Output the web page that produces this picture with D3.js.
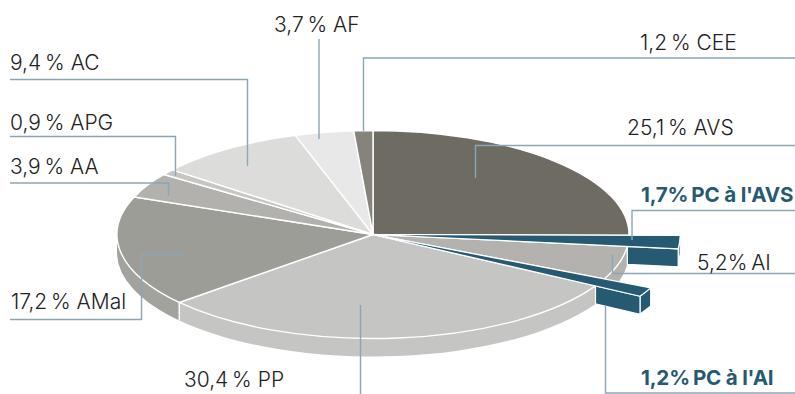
<!DOCTYPE html>
<html>
<head>
<meta charset="utf-8">
<script src="https://cdn.jsdelivr.net/npm/d3@7"></script>
<style>
  html, body { margin: 0; padding: 0; background: #fff; }
  svg { display: block; }
  text { font-family: Inter, Roboto, "Liberation Sans", sans-serif; font-size: 21px; font-weight: 300; fill: #222; }
  text.pc { font-weight: 700; fill: #265a72; font-size: 20.6px; letter-spacing: -0.2px; }
</style>
</head>
<body>
<svg id="chart" width="795" height="394"></svg>
<script>
// Swiss social insurance shares, clockwise from twelve o'clock
const categories = ["AVS", "PC à l'AVS", "AI", "PC à l'AI", "PP", "AMal", "AA", "APG", "AC", "AF", "CEE"];
const shares = [25.1, 1.7, 5.2, 1.2, 30.4, 17.2, 3.9, 0.9, 9.4, 3.7, 1.2];
const faceColors = ["#6e6b63", "#265a72", "#b3b2af", "#265a72", "#c5c5c3", "#9d9d97", "#b2b1ae", "#c6c6c3", "#dcdcda", "#e8e8e8", "#85837c"];
const wallColors = ["#6e6b63", "#265a72", "#b3b2af", "#265a72", "#c5c5c3", "#a3a39e", "#b2b1ae", "#c6c6c3", "#dcdcda", "#e8e8e8", "#85837c"];
const pulledOut = ["PC à l'AVS", "PC à l'AI"];
const labelTexts = ["25,1\u2009% AVS", "1,7%\u2009PC à l'AVS", "5,2%\u2009AI", "1,2%\u2009PC à l'AI", "30,4\u2009% PP", "17,2\u2009% AMal", "3,9\u2009% AA", "0,9\u2009% APG", "9,4\u2009% AC", "3,7\u2009% AF", "1,2\u2009% CEE"];

const cx = 373, cy = 234.5, rx = 256, ry = 104, depth = 18, pull = 1.2;
const svg = d3.select("#chart");

const slices = d3.pie().sort(null).value(d => d)(shares)
  .map((s, i) => ({ ...s, name: categories[i], face: faceColors[i], wall: wallColors[i], label: labelTexts[i] }));

// Point on the tilted disc for an angle measured clockwise from the top
const pt = (a, k = 1, drop = 0) => [cx + rx * k * Math.sin(a), cy - ry * k * Math.cos(a) + drop];
const join = p => p[0].toFixed(2) + "," + p[1].toFixed(2);

// Rim wall between two angles, only the part that faces the viewer
function wallPath(a0, a1, k = 1) {
  const from = Math.max(a0, Math.PI / 2), to = Math.min(a1, Math.PI * 1.5);
  if (to <= from) return null;
  const rA = rx * k, rB = ry * k;
  return `M${join(pt(from, k))}A${rA},${rB} 0 0 1 ${join(pt(to, k))}` +
         `L${join(pt(to, k, depth))}A${rA},${rB} 0 0 0 ${join(pt(from, k, depth))}Z`;
}

const isPulled = d => pulledOut.includes(d.name);

// Walls of the disc
svg.append("g").selectAll("path")
  .data(slices.filter(d => !isPulled(d) && wallPath(d.startAngle, d.endAngle)))
  .join("path")
  .attr("d", d => wallPath(d.startAngle, d.endAngle))
  .attr("fill", d => d.wall);

// Vertical seam between PP and AMal
const seam = slices.find(d => d.name === "PP").endAngle;
svg.append("line")
  .attr("x1", pt(seam)[0]).attr("y1", pt(seam)[1])
  .attr("x2", pt(seam, 1, depth)[0]).attr("y2", pt(seam, 1, depth)[1])
  .attr("stroke", "#fff").attr("stroke-width", 1.4);

// Flat top faces, drawn with d3.arc on a squashed circle
const arc = d3.arc().innerRadius(0).outerRadius(rx);
const arcOut = d3.arc().innerRadius(0).outerRadius(rx * pull);
const faces = svg.append("g").attr("transform", `translate(${cx},${cy}) scale(1,${ry / rx})`);
faces.selectAll("path.face")
  .data(slices.filter(d => !isPulled(d)))
  .join("path")
  .attr("class", "face")
  .attr("d", arc)
  .attr("fill", d => d.face)
  .attr("stroke", "#fff")
  .attr("stroke-width", 1.4)
  .attr("vector-effect", "non-scaling-stroke");

// Supplementary benefits: wedges pulled beyond the rim with their own walls
const bars = slices.filter(isPulled);
const barG = svg.append("g");
bars.forEach(d => {
  const a0 = d.startAngle, a1 = d.endAngle;
  const side = `M${join(pt(a0, pull))}L${join(pt(a1, pull))}L${join(pt(a1, pull, depth))}L${join(pt(a0, pull, depth))}Z`;
  const front = `M${join(pt(a1, 1))}L${join(pt(a1, pull))}L${join(pt(a1, pull, depth))}L${join(pt(a1, 1, depth))}Z`;
  [side, front].forEach(p => barG.append("path").attr("d", p)
    .attr("fill", d.face).attr("stroke", "#fff").attr("stroke-width", 1.2).attr("stroke-linejoin", "round"));
});
const barFaces = svg.append("g").attr("transform", `translate(${cx},${cy}) scale(1,${ry / rx})`);
barFaces.selectAll("path.bar")
  .data(bars)
  .join("path")
  .attr("class", "bar")
  .attr("d", arcOut)
  .attr("fill", d => d.face)
  .attr("stroke", "#fff")
  .attr("stroke-width", 1.2)
  .attr("vector-effect", "non-scaling-stroke");

// Leader lines from each label into its slice
const leaderPaths = {
  "AVS": "M795,145.5H475.5V178",
  "PC à l'AVS": "M795,210.5H632V240",
  "AI": "M795,273.5H612.5V255",
  "PC à l'AI": "M795,393H605.5V305",
  "PP": "M360.5,394V305",
  "AMal": "M10,319.5H141.5V254.5H185",
  "AA": "M10,183H168.5V196",
  "APG": "M10,136.5H175.5V176",
  "AC": "M10,79.5H247.5V166",
  "AF": "M319,39V139",
  "CEE": "M795,58H363.5V131"
};
svg.append("g").selectAll("path")
  .data(slices)
  .join("path")
  .attr("d", d => leaderPaths[d.name])
  .attr("fill", "none")
  .attr("stroke", "#8ba6b7")
  .attr("stroke-width", 1.4);

// Labels
const labelAt = {
  "AVS": [627, 135], "PC à l'AVS": [641, 202], "AI": [697, 270], "PC à l'AI": [641, 385],
  "PP": [184, 387], "AMal": [11, 309], "AA": [10, 174], "APG": [10, 130],
  "AC": [10, 70], "AF": [274, 31.5], "CEE": [640, 50]
};
svg.append("g").selectAll("text")
  .data(slices)
  .join("text")
  .attr("class", d => isPulled(d) ? "pc" : null)
  .attr("x", d => labelAt[d.name][0])
  .attr("y", d => labelAt[d.name][1])
  .text(d => d.label);
</script>
</body>
</html>
